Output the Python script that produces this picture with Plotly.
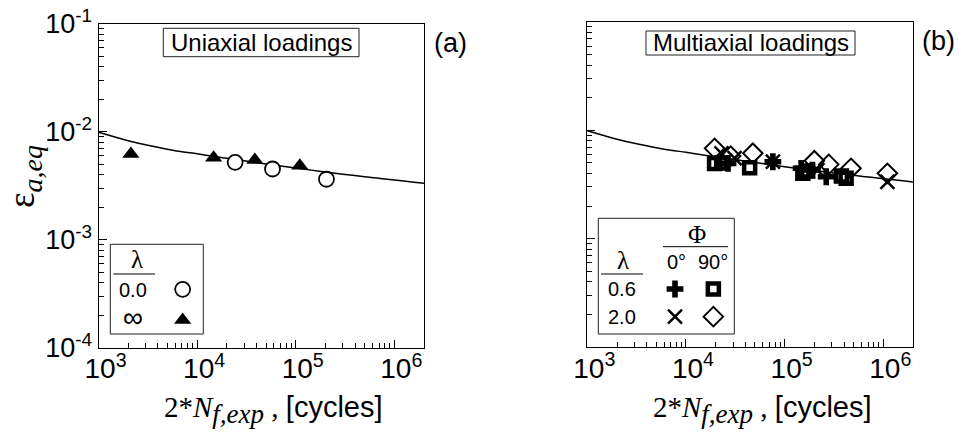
import plotly.graph_objects as go

W, H = 959, 434

# ---------------- data ----------------
# fitted strain-life curve
curve_n = [1e3, 1.5e3, 2e3, 3e3, 5e3, 7e3, 1e4, 1.5e4, 2e4, 3e4, 5e4, 7e4,
           1e5, 1.5e5, 2e5, 3e5, 5e5, 7e5, 1e6, 1.5e6, 2e6]
curve_eps = [9.91e-3, 8.91e-3, 8.28e-3, 7.59e-3, 6.92e-3, 6.56e-3, 6.27e-3,
             5.92e-3, 5.69e-3, 5.40e-3, 5.05e-3, 4.83e-3, 4.62e-3, 4.40e-3,
             4.25e-3, 4.06e-3, 3.84e-3, 3.71e-3, 3.58e-3, 3.44e-3, 3.34e-3]

# (a) uniaxial
uni_l0_n = [2.43e4, 5.82e4, 2.05e5]
uni_l0_eps = [5.22e-3, 4.53e-3, 3.64e-3]
uni_linf_n = [2.13e3, 1.47e4, 3.85e4, 1.10e5]
uni_linf_eps = [6.25e-3, 5.75e-3, 5.49e-3, 4.85e-3]

# (b) multiaxial
m06_p0_n = [2.67e4, 7.6e4, 1.47e5, 1.91e5, 2.64e5]
m06_p0_eps = [4.95e-3, 5.13e-3, 4.46e-3, 4.30e-3, 3.73e-3]
m06_p90_n = [1.95e4, 2.30e4, 4.42e4, 1.53e5, 1.71e5, 3.76e5, 4.20e5]
m06_p90_eps = [4.95e-3, 4.99e-3, 4.52e-3, 4.01e-3, 4.21e-3, 3.78e-3, 3.61e-3]
m20_p0_n = [2.29e4, 3.11e4, 7.6e4, 2.15e5, 1.10e6]
m20_p0_eps = [6.14e-3, 5.55e-3, 5.13e-3, 4.30e-3, 3.35e-3]
m20_p90_n = [1.95e4, 2.84e4, 4.76e4, 2.00e5, 2.80e5, 4.71e5, 1.10e6]
m20_p90_eps = [6.82e-3, 5.79e-3, 6.14e-3, 5.24e-3, 4.85e-3, 4.46e-3, 4.01e-3]

x_ticks = [1e3, 1e4, 1e5, 1e6]
x_tick_text = ["10<sup>3</sup>", "10<sup>4</sup>", "10<sup>5</sup>", "10<sup>6</sup>"]
y_ticks = [1e-4, 1e-3, 1e-2, 1e-1]
y_tick_text = ["10<sup>-4</sup>", "10<sup>-3</sup>", "10<sup>-2</sup>", "10<sup>-1</sup>"]

SANS = "Liberation Sans, Arial, sans-serif"
SERIF = "Liberation Serif, Times New Roman, serif"


def px(x):
    return x / W


def py(y):
    return 1 - y / H


x_minor = [k * 10 ** e for e in range(3, 7) for k in range(2, 10) if k * 10 ** e < 2e6]
y_minor = [k * 10.0 ** e for e in range(-4, -1) for k in range(2, 10)]

fig = go.Figure()

line_style = dict(color="black", width=1.5)
# panel (a)
fig.add_trace(go.Scatter(x=curve_n, y=curve_eps, mode="lines", line=line_style,
                         line_shape="spline", xaxis="x", yaxis="y"))
fig.add_trace(go.Scatter(x=uni_linf_n, y=uni_linf_eps, mode="markers", xaxis="x", yaxis="y",
                         marker=dict(symbol="triangle-up", size=15, color="black")))
fig.add_trace(go.Scatter(x=uni_l0_n, y=uni_l0_eps, mode="markers", xaxis="x", yaxis="y",
                         marker=dict(symbol="circle", size=15, color="white",
                                     line=dict(color="black", width=1.8))))
# panel (b)
fig.add_trace(go.Scatter(x=curve_n, y=curve_eps, mode="lines", line=line_style,
                         line_shape="spline", xaxis="x2", yaxis="y2"))
mk_p0_06 = dict(symbol="cross", size=14, color="black")
mk_p90_06 = dict(symbol="square-open", size=11, color="black", line=dict(color="black", width=4.5))
mk_p0_20 = dict(symbol="x-thin-open", size=14, color="black", line=dict(color="black", width=2.5))
mk_p90_20 = dict(symbol="diamond-open", size=15, color="black", line=dict(color="black", width=2))
fig.add_trace(go.Scatter(x=m06_p90_n, y=m06_p90_eps, mode="markers", xaxis="x2", yaxis="y2",
                         marker=mk_p90_06))
fig.add_trace(go.Scatter(x=m06_p0_n, y=m06_p0_eps, mode="markers", xaxis="x2", yaxis="y2",
                         marker=mk_p0_06))
fig.add_trace(go.Scatter(x=m20_p90_n, y=m20_p90_eps, mode="markers", xaxis="x2", yaxis="y2",
                         marker=mk_p90_20))
fig.add_trace(go.Scatter(x=m20_p0_n, y=m20_p0_eps, mode="markers", xaxis="x2", yaxis="y2",
                         marker=mk_p0_20))

# legend keys (on auxiliary unit axes spanning the legend boxes)
fig.add_trace(go.Scatter(x=[0.778], y=[0.498], mode="markers", xaxis="x3", yaxis="y3",
                         marker=dict(symbol="circle", size=15, color="white",
                                     line=dict(color="black", width=1.8))))
fig.add_trace(go.Scatter(x=[0.778], y=[0.156], mode="markers", xaxis="x3", yaxis="y3",
                         marker=dict(symbol="triangle-up", size=15, color="black")))
fig.add_trace(go.Scatter(x=[0.564], y=[0.389], mode="markers", xaxis="x4", yaxis="y4", marker=mk_p0_06))
fig.add_trace(go.Scatter(x=[0.846], y=[0.389], mode="markers", xaxis="x4", yaxis="y4", marker=mk_p90_06))
fig.add_trace(go.Scatter(x=[0.564], y=[0.150], mode="markers", xaxis="x4", yaxis="y4", marker=mk_p0_20))
fig.add_trace(go.Scatter(x=[0.846], y=[0.150], mode="markers", xaxis="x4", yaxis="y4", marker=mk_p90_20))


def xaxis_cfg(domain, anchor):
    return dict(type="log", range=[3, 6.301], domain=domain, anchor=anchor,
                automargin=False,
                showline=True, linecolor="black", linewidth=1, mirror=True,
                showgrid=False, zeroline=False,
                tickmode="array", tickvals=x_ticks, ticktext=x_tick_text,
                ticks="inside", ticklen=8, tickcolor="black", tickwidth=1,
                tickfont=dict(family=SANS, size=28, color="black"),
                ticklabelshift=7, ticklabelstandoff=-4,
                minor=dict(ticks="inside", ticklen=5, tickcolor="black", tickwidth=1,
                           tickvals=x_minor, showgrid=False))


def yaxis_cfg(domain, anchor, labels):
    return dict(type="log", range=[-4, -1], domain=domain, anchor=anchor,
                automargin=False,
                showline=True, linecolor="black", linewidth=1, mirror=True,
                showgrid=False, zeroline=False,
                tickmode="array", tickvals=y_ticks, ticktext=y_tick_text,
                showticklabels=labels,
                ticks="inside", ticklen=8, tickcolor="black", tickwidth=1,
                tickfont=dict(family=SANS, size=27, color="black"),
                minor=dict(ticks="inside", ticklen=5, tickcolor="black", tickwidth=1,
                           tickvals=y_minor, showgrid=False))


unit_axis = dict(range=[0, 1], visible=False, fixedrange=True, automargin=False)

fig.update_layout(
    width=W, height=H, autosize=False,
    margin=dict(l=0, r=0, t=0, b=0, autoexpand=False),
    paper_bgcolor="white", plot_bgcolor="rgba(0,0,0,0)",
    showlegend=False,
    xaxis=xaxis_cfg([px(98.5), px(424)], "y"),
    yaxis=yaxis_cfg([py(347.7), py(24)], "x", True),
    xaxis2=xaxis_cfg([px(587.3), px(913)], "y2"),
    yaxis2=yaxis_cfg([py(347), py(22)], "x2", False),
    xaxis3=dict(unit_axis, domain=[px(110.3), px(203.3)], anchor="y3"),
    yaxis3=dict(unit_axis, domain=[py(334), py(244.3)], anchor="x3"),
    xaxis4=dict(unit_axis, domain=[px(598.3), px(734.3)], anchor="y4"),
    yaxis4=dict(unit_axis, domain=[py(334), py(218.3)], anchor="x4"),
)

shapes = []


def rect(x0, y0, x1, y1):
    shapes.append(dict(type="rect", xref="paper", yref="paper",
                       x0=px(x0), x1=px(x1), y0=py(y1), y1=py(y0),
                       line=dict(color="#222", width=1), fillcolor="white", layer="below"))


def hline(x0, x1, y):
    shapes.append(dict(type="line", xref="paper", yref="paper",
                       x0=px(x0), x1=px(x1), y0=py(y), y1=py(y),
                       line=dict(color="black", width=1)))


rect(163.3, 28.3, 359, 56.7)
rect(646, 31, 855, 55)
rect(110.3, 244.3, 203.3, 334)
rect(598.3, 218.3, 734.3, 334)
hline(113.3, 155, 274)
hline(601, 643, 274)
hline(663, 728, 246.7)
fig.update_layout(shapes=shapes)

ann = []


def text(x, y, s, size, family=SANS, xanchor="center", yanchor="middle", angle=0):
    ann.append(dict(x=px(x), y=py(y), xref="paper", yref="paper", text=s, showarrow=False,
                    xanchor=xanchor, yanchor=yanchor, textangle=angle,
                    font=dict(family=family, size=size, color="black")))


text(261.5, 42.5, "Uniaxial loadings", 24)
text(750.5, 43, "Multiaxial loadings", 24)
text(450, 43, "(a)", 27)
text(938, 41, "(b)", 27)

# legend (a)
text(136.7, 259, "λ", 25, SERIF)
text(133.3, 290, "0.0", 20)
text(133.3, 317.7, "∞", 28)
# legend (b)
text(696.7, 234, "Φ", 25, SERIF)
text(623.3, 260.7, "λ", 25, SERIF)
text(676.7, 261.7, "0°", 20)
text(713.3, 261.7, "90°", 20)
text(621.7, 289, "0.6", 20)
text(621.7, 316.7, "2.0", 20)

# axis titles
xtitle = ('<span style="font-family:Liberation Serif">2*<i>N</i>'
          '<sub><i><span style="font-size:27px">f,exp</span></i></sub> , </span>[cycles]')
text(273, 410, xtitle, 29)
text(762, 410, xtitle, 29)
ytitle = ('<span style="font-family:Liberation Serif">ε'
          '<sub><i><span style="font-size:28px">a,eq</span></i></sub></span>')
text(25, 177, ytitle, 37, SERIF, angle=-90)

fig.update_layout(annotations=ann)

fig.write_html("out.html", config={"displayModeBar": False},
               post_script="document.body.style.margin='0';document.body.style.overflow='hidden';")
